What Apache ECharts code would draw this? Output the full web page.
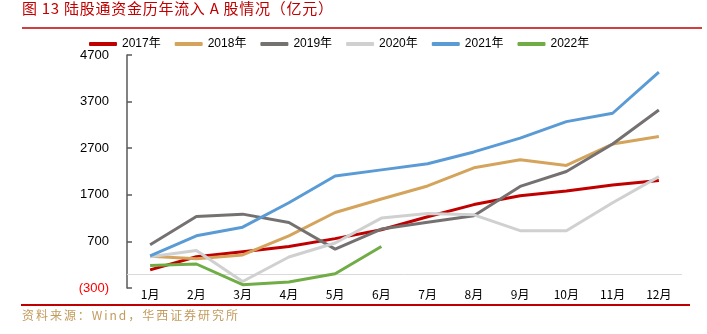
<!DOCTYPE html>
<html>
<head>
<meta charset="utf-8">
<script src="https://cdn.jsdelivr.net/npm/echarts@6/dist/echarts.min.js"></script>
<style>
html,body{margin:0;padding:0;background:#fff;}
#chart{width:707px;height:334px;}
</style>
</head>
<body>
<div id="chart"></div>
<script>
// Monthly cumulative Northbound (陆股通) inflows into A shares, 亿元
const months = ['1月','2月','3月','4月','5月','6月','7月','8月','9月','10月','11月','12月'];
const years = ['2017年','2018年','2019年','2020年','2021年','2022年'];
const v2017 = [90, 370, 480, 590, 760, 950, 1230, 1490, 1680, 1780, 1910, 2005];
const v2018 = [380, 330, 410, 820, 1320, 1610, 1890, 2280, 2450, 2330, 2790, 2950];
const v2019 = [630, 1235, 1285, 1105, 535, 965, 1110, 1250, 1880, 2200, 2790, 3520];
const v2020 = [370, 505, -160, 365, 665, 1200, 1300, 1270, 930, 930, 1530, 2090];
const v2021 = [390, 820, 1005, 1530, 2105, 2235, 2365, 2620, 2915, 3270, 3450, 4330];
const v2022 = [185, 215, -230, -170, 5, 590];
const yTicks = { min: -300, max: 4700, interval: 1000 };
const colors = ['#c00000', '#d4a45c', '#757171', '#d0d0d0', '#5b9bd5', '#70ad47'];

const titleText = '图 13 陆股通资金历年流入 A 股情况（亿元）';
const sourceText = '资料来源：Wind，华西证券研究所';

// Lay a string out character by character with even extra tracking so it spans `width`.
const measureCtx = document.createElement('canvas').getContext('2d');
function trackedText(str, x, y, width, font, fill) {
  measureCtx.font = font;
  const chars = Array.from(str);
  const widths = chars.map(c => measureCtx.measureText(c).width);
  const natural = widths.reduce((a, b) => a + b, 0);
  const extra = chars.length > 1 ? (width - natural) / (chars.length - 1) : 0;
  let cx = x;
  return chars.map((c, i) => {
    const el = { type: 'text', x: cx, y: y, style: { text: c, font: font, fill: fill, textVerticalAlign: 'middle' } };
    cx += widths[i] + extra;
    return el;
  });
}

const seriesData = [v2017, v2018, v2019, v2020, v2021, v2022];
const chart = echarts.init(document.getElementById('chart'));

const series = seriesData.map((d, i) => ({
  name: years[i],
  type: 'line',
  data: d,
  symbol: 'none',
  lineStyle: { width: 3, color: colors[i] },
  itemStyle: { color: colors[i] },
  z: 3
}));
// zero reference line
series[0].markLine = {
  silent: true,
  symbol: 'none',
  label: { show: false },
  lineStyle: { color: '#d9d9d9', width: 1, type: 'solid' },
  data: [{ yAxis: 0 }],
  z: 1
};

chart.setOption({
  animation: false,
  backgroundColor: '#fff',
  color: colors,
  textStyle: { fontFamily: '"Noto Sans CJK SC", "Liberation Sans", sans-serif' },
  legend: {
    data: years,
    left: 84,
    top: 33,
    icon: 'roundRect',
    itemWidth: 28,
    itemHeight: 4,
    itemGap: 14,
    textStyle: { fontSize: 12, color: '#000', fontFamily: '"Liberation Sans", "Noto Sans CJK SC", sans-serif' }
  },
  grid: { left: 127, right: 25, top: 55, bottom: 46 },
  xAxis: {
    type: 'category',
    data: months,
    boundaryGap: true,
    axisLine: { show: false },
    axisTick: { show: false },
    axisLabel: { margin: 0, fontSize: 12, color: '#000', verticalAlign: 'top', fontFamily: '"Noto Sans CJK SC", sans-serif' }
  },
  yAxis: {
    type: 'value',
    min: yTicks.min,
    max: yTicks.max,
    interval: yTicks.interval,
    splitLine: { show: false },
    axisLine: { show: true, lineStyle: { color: '#595959', width: 1.5 } },
    axisTick: { show: true, inside: true, length: 5, lineStyle: { color: '#595959', width: 1.5 } },
    axisLabel: {
      margin: 18,
      fontSize: 13,
      fontFamily: '"Liberation Sans", sans-serif',
      color: (v) => (v < 0 ? '#ff0000' : '#000'),
      formatter: (v) => (v < 0 ? '(' + Math.abs(v) + ')' : String(v))
    }
  },
  graphic: [
    { type: 'group', children: trackedText(titleText, 22, 8, 311, '15px "Noto Sans CJK SC", sans-serif', '#c00000') },
    { type: 'line', shape: { x1: 22, y1: 28, x2: 702, y2: 28 }, style: { stroke: '#c00000', lineWidth: 1.5 } },
    { type: 'line', shape: { x1: 21, y1: 305, x2: 690, y2: 305 }, style: { stroke: '#c00000', lineWidth: 2 } },
    { type: 'group', children: trackedText(sourceText, 22, 315, 216, '12px "Noto Sans CJK SC", sans-serif', '#c39a5c') }
  ],
  series: series
});
</script>
</body>
</html>
